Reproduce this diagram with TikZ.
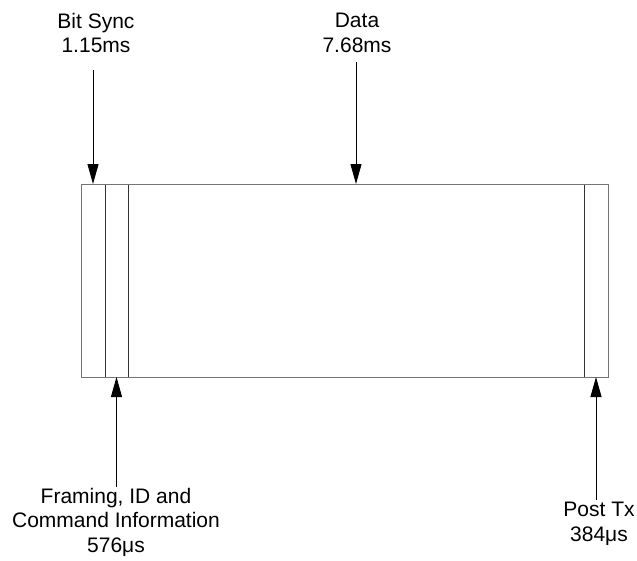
\documentclass[tikz,border=0pt]{standalone}
\usepackage{fontspec}
\setmainfont{Liberation Sans}
\usetikzlibrary{arrows.meta,positioning}
\tikzset{
  lbl/.style={align=center, font=\fontsize{21}{24.5}\selectfont, inner sep=0pt},
  arr/.style={-{Triangle[length=20pt,width=11pt]}, line width=0.9pt},
  field/.style={draw=black!80, line width=1pt, inner sep=0pt, outer sep=0pt, minimum height=193pt},
}
\begin{document}
\begin{tikzpicture}[x=1pt,y=-1pt]
        \useasboundingbox (0,0) rectangle (637,560);
        % the frame
        \node [field, minimum width=24pt, anchor=north west] (sync) at (81,184) {};
        \node [field, minimum width=23pt, right=0pt of sync] (frm) {};
        \node [field, minimum width=456pt, right=0pt of frm] (data) {};
        \node [field, minimum width=24pt, right=0pt of data] (post) {};
        \draw [black!55, line width=1pt] (sync.north west) rectangle (post.south east);
        % labels
        \node [lbl] (bitsync) at (96,33) {Bit Sync\\1.15ms};
        \node [lbl] (datalbl) at (357,33) {Data\\7.68ms};
        \node [lbl] (framing) at (116,522) {Framing, ID and\\Command Information\\576μs};
        \node [lbl] (posttx) at (599,524) {Post Tx\\384μs};
        \draw [arr] (sync.north |- 0,70) -- (sync.north);
        \draw [arr] (data.north |- 0,62) -- (data.north);
        \draw [arr] (frm.south |- 0,487) -- (frm.south);
        \draw [arr] (post.south |- 0,500) -- (post.south);
\end{tikzpicture}
\end{document}
